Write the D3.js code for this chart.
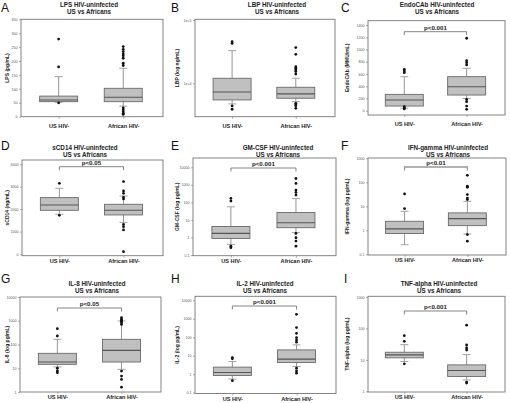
<!DOCTYPE html>
<html><head><meta charset="utf-8">
<script src="https://cdn.jsdelivr.net/npm/d3@7"></script>
<style>body{margin:0;background:#fff}svg{display:block;font-family:"Liberation Sans",Arial,sans-serif}</style>
</head><body><svg id="c" width="510" height="403"></svg>
<script>
// ---------- DATA ----------
const groups = ["US HIV-", "African HIV-"];
const letters = ["A","B","C","D","E","F","G","H","I"];
const titles = ["LPS HIV-uninfected","LBP HIV-uninfected","EndoCAb HIV-uninfected","sCD14 HIV-uninfected","GM-CSF HIV-uninfected","IFN-gamma HIV-uninfected","IL-8 HIV-uninfected","IL-2 HIV-uninfected","TNF-alpha HIV-uninfected"];
const subtitle = "US vs Africans";
const yLabels = ["LPS (pg/mL)","LBP (log ng/mL)","EndoCAb (MMU/mL)","sCD14 (ng/mL)","GM-CSF (log pg/mL)","IFN-gamma (log pg/mL)","IL-8 (log pg/mL)","IL-2 (log pg/mL)","TNF-alpha (log pg/mL)"];
const pLabels = [null, null, "p<0.001", "p<0.05", "p<0.001", "p<0.01", "p<0.05", "p<0.001", "p<0.001"];
const scaleTypes = ["linear","log","linear","linear","log","log","log","log","log"];
const yTicks = [
  [0,50,100,150,200,250,300,350],
  [1e4,1e5],
  [0,200,400,600,800,1000,1200,1400],
  [0,1000,2000,3000,4000],
  [0.1,1,10,100,1000,10000],
  [0.1,1,10,100,1000],
  [1,10,100,1000,10000],
  [0.1,1,10,100,1000,10000],
  [1,10,100,1000]
];
const yTickLabels = [
  ["0","50","100","150","200","250","300","350"],
  ["1e+4","1e+5"],
  ["0","200","400","600","800","1000","1200","1400"],
  ["0","1000","2000","3000","4000"],
  ["0.1","1","10","100","1000","10000"],
  ["0.1","1","10","100","1000"],
  ["1","10","100","1000","10000"],
  ["0.1","1","10","100","1000","10000"],
  ["1","10","100","1000"]
];
// box stats: [low whisker, Q1, median, Q3, high whisker]
const usStats = [
  [52, 54, 60, 74, 144],
  [4720, 5460, 7300, 12000, 32800],
  [40, 76, 174, 267, 556],
  [1770, 1948, 2186, 2513, 2929],
  [0.4, 0.88, 1.7, 4.2, 56],
  [0.25, 0.73, 1.14, 2.37, 6.2],
  [11.3, 14.6, 18.3, 42.5, 165],
  [0.54, 0.85, 1.23, 2.4, 4.8],
  [8.9, 11.6, 14.4, 17.5, 30.5]
];
const afStats = [
  [38, 54, 70, 102, 174],
  [5130, 5800, 6790, 8650, 12000],
  [200, 256, 392, 556, 692],
  [1413, 1740, 1948, 2216, 2587],
  [1.9, 3.6, 6.9, 26.7, 167],
  [0.7, 1.56, 3.06, 5.3, 16],
  [9, 18.3, 56.8, 165, 980],
  [2.6, 4.3, 6.5, 20.6, 38.5],
  [2.3, 2.98, 4.6, 6.95, 14.7]
];
const usOutliers = [
  [279, 179, 50],
  [45500, 42700, 4390, 3890],
  [676, 648, 621, 65, 45, 30],
  [3152, 1725],
  [167, 118, 0.32, 0.26],
  [32.6, 8],
  [464, 228, 10, 7.7, 6.5],
  [7.9, 6.8, 0.44],
  [58.7, 38.8, 7.5]
];
const afOutliers = [
  [252, 242, 234, 226, 219, 210, 192, 184, 32, 25, 18, 12, 8],
  [36600, 28700, 18300, 17300, 16200, 15300, 14000, 4830, 4600, 4400, 4020],
  [1183, 817, 785, 747, 185, 147, 76, 22],
  [3227, 2810, 2706, 2528, 2453, 1323, 1219, 1071, 104],
  [2300, 1200, 500, 370, 260, 1.7, 0.96, 0.62, 0.32],
  [195, 68, 62, 30.6, 22, 19, 0.66, 0.35],
  [1340, 1150, 1050, 930, 830, 700, 7.6, 4.7, 3.4, 1.6],
  [1750, 335, 164, 96, 72, 54, 2.1, 1.5, 1.13],
  [127, 29.7, 24, 20.6, 1.97, 1.83]
];

// ---------- LAYOUT (pixels / axis extents) ----------
const frames = [ // [x0, x1, yTop, yBottom]
  [21,163,19.3,116.7],[195,335,19.3,116.7],[368,505,20.7,115],
  [22,163,160,255.7],[193,336,158,255.7],[368,506,158,255],
  [20,161,297,392],[195,336,296.3,393.5],[368,505,296.3,392]
];
const yExtents = [
  [0,350],[Math.pow(10,3.472),Math.pow(10,5.011)],[-70,1470],
  [-76,4190],[Math.pow(10,-1.04),Math.pow(10,4.53)],[Math.pow(10,-1.03),Math.pow(10,3.01)],
  [1,10000],[Math.pow(10,-1.05),Math.pow(10,4.22)],[Math.pow(10,-0.02),Math.pow(10,3.02)]
];
const titleX = [89,277,437, 85,278,448, 97,265,439];
const rowTop = [0,135,268];
const xLabelPad = [5, 1.5, 1.5];
const bracketY = [null,null,31.7,166.7,168,167,308,306,311];

const svg = d3.select("#c");
const boxFill = "#c0c0c0", boxStroke = "#6a6a6a", medianCol = "#555", whiskCol = "#8a8a8a";

letters.forEach((L, i) => {
  const row = Math.floor(i/3), col = i%3;
  const [x0,x1,yT,yB] = frames[i];
  const g = svg.append("g");
  const w = x1 - x0;
  const x = d3.scalePoint().domain(groups).range([x0 + 0.265*w, x0 + 0.72*w]);
  const y = (scaleTypes[i] === "log" ? d3.scaleLog() : d3.scaleLinear())
              .domain(yExtents[i]).range([yB, yT]);

  // panel letter
  g.append("text").attr("x", col*170 + (L==="I"?4:1)).attr("y", rowTop[row] + 12 + (row>0?3:0))
    .attr("font-size", 12).attr("fill","#111").text(L);
  // titles
  const ty = rowTop[row] + (row===0?7:(row===1?15:18));
  g.append("text").attr("x", titleX[i]).attr("y", ty).attr("text-anchor","middle")
    .attr("font-size",6.3).attr("font-weight","bold").attr("fill","#222").text(titles[i]);
  g.append("text").attr("x", titleX[i]).attr("y", ty+7).attr("text-anchor","middle")
    .attr("font-size",6.3).attr("font-weight","bold").attr("fill","#222").text(subtitle);

  // frame
  g.append("rect").attr("x",x0).attr("y",yT).attr("width",w).attr("height",yB-yT)
    .attr("fill","none").attr("stroke","#777").attr("stroke-width",0.9);

  // y axis
  const yAxis = d3.axisLeft(y).tickValues(yTicks[i]).tickSize(2).tickPadding(1.5)
    .tickFormat((d,k) => yTickLabels[i][k]);
  const ya = g.append("g").attr("transform",`translate(${x0},0)`).call(yAxis);
  ya.select(".domain").remove();
  ya.selectAll("line").attr("stroke","#777").attr("stroke-width",0.6);
  ya.selectAll("text").attr("font-size",3.6).attr("fill","#555").attr("font-family","Liberation Sans, Arial");

  // x axis
  const xAxis = d3.axisBottom(x).tickSize(2).tickPadding(xLabelPad[row]);
  const xa = g.append("g").attr("transform",`translate(0,${yB})`).call(xAxis);
  xa.select(".domain").remove();
  xa.selectAll("line").attr("stroke","#777").attr("stroke-width",0.6);
  xa.selectAll("text").attr("font-size",5.6).attr("font-weight","bold").attr("fill","#222")
    .attr("font-family","Liberation Sans, Arial");

  // y label
  g.append("text").attr("transform",`translate(${col*170 + 9},${(yT+yB)/2}) rotate(-90)`)
    .attr("text-anchor","middle").attr("font-size",5).attr("font-weight","bold").attr("fill","#222")
    .text(yLabels[i]);

  // boxes
  const bw = 38, cap = 8;
  [usStats[i], afStats[i]].forEach((s, k) => {
    const cx = x(groups[k]);
    const [lo,q1,md,q3,hi] = s;
    g.append("line").attr("x1",cx).attr("x2",cx).attr("y1",y(q3)).attr("y2",y(hi))
      .attr("stroke",whiskCol).attr("stroke-width",0.9);
    g.append("line").attr("x1",cx).attr("x2",cx).attr("y1",y(q1)).attr("y2",y(lo))
      .attr("stroke",whiskCol).attr("stroke-width",0.9);
    [hi, lo].forEach(v => g.append("line").attr("x1",cx-cap/2).attr("x2",cx+cap/2)
      .attr("y1",y(v)).attr("y2",y(v)).attr("stroke","#9a9a9a").attr("stroke-width",0.9));
    g.append("rect").attr("x",cx-bw/2).attr("y",y(q3)).attr("width",bw).attr("height",y(q1)-y(q3))
      .attr("fill",boxFill).attr("stroke",boxStroke).attr("stroke-width",0.9);
    g.append("line").attr("x1",cx-bw/2).attr("x2",cx+bw/2).attr("y1",y(md)).attr("y2",y(md))
      .attr("stroke",medianCol).attr("stroke-width",1.1);
  });
  // outliers
  [usOutliers[i], afOutliers[i]].forEach((arr, k) => {
    const cx = x(groups[k]);
    g.selectAll(null).data(arr).enter().append("circle")
      .attr("cx",cx).attr("cy",d=>y(d)).attr("r",1.4).attr("fill","#111");
  });

  // significance bracket
  if (pLabels[i]) {
    const by = bracketY[i];
    const xa1 = x(groups[0]), xa2 = x(groups[1]);
    const light = (i===5);
    g.append("path").attr("d",`M${xa1},${by+3.5}V${by}H${xa2}V${by+3.5}`)
      .attr("fill","none").attr("stroke", light?"#999":"#666").attr("stroke-width", light?1.3:0.8);
    g.append("text").attr("x",(xa1+xa2)/2).attr("y",by-2.2).attr("text-anchor","middle")
      .attr("font-size",6.2).attr("font-weight","bold").attr("fill","#222").text(pLabels[i]);
  }
});
</script></body></html>
